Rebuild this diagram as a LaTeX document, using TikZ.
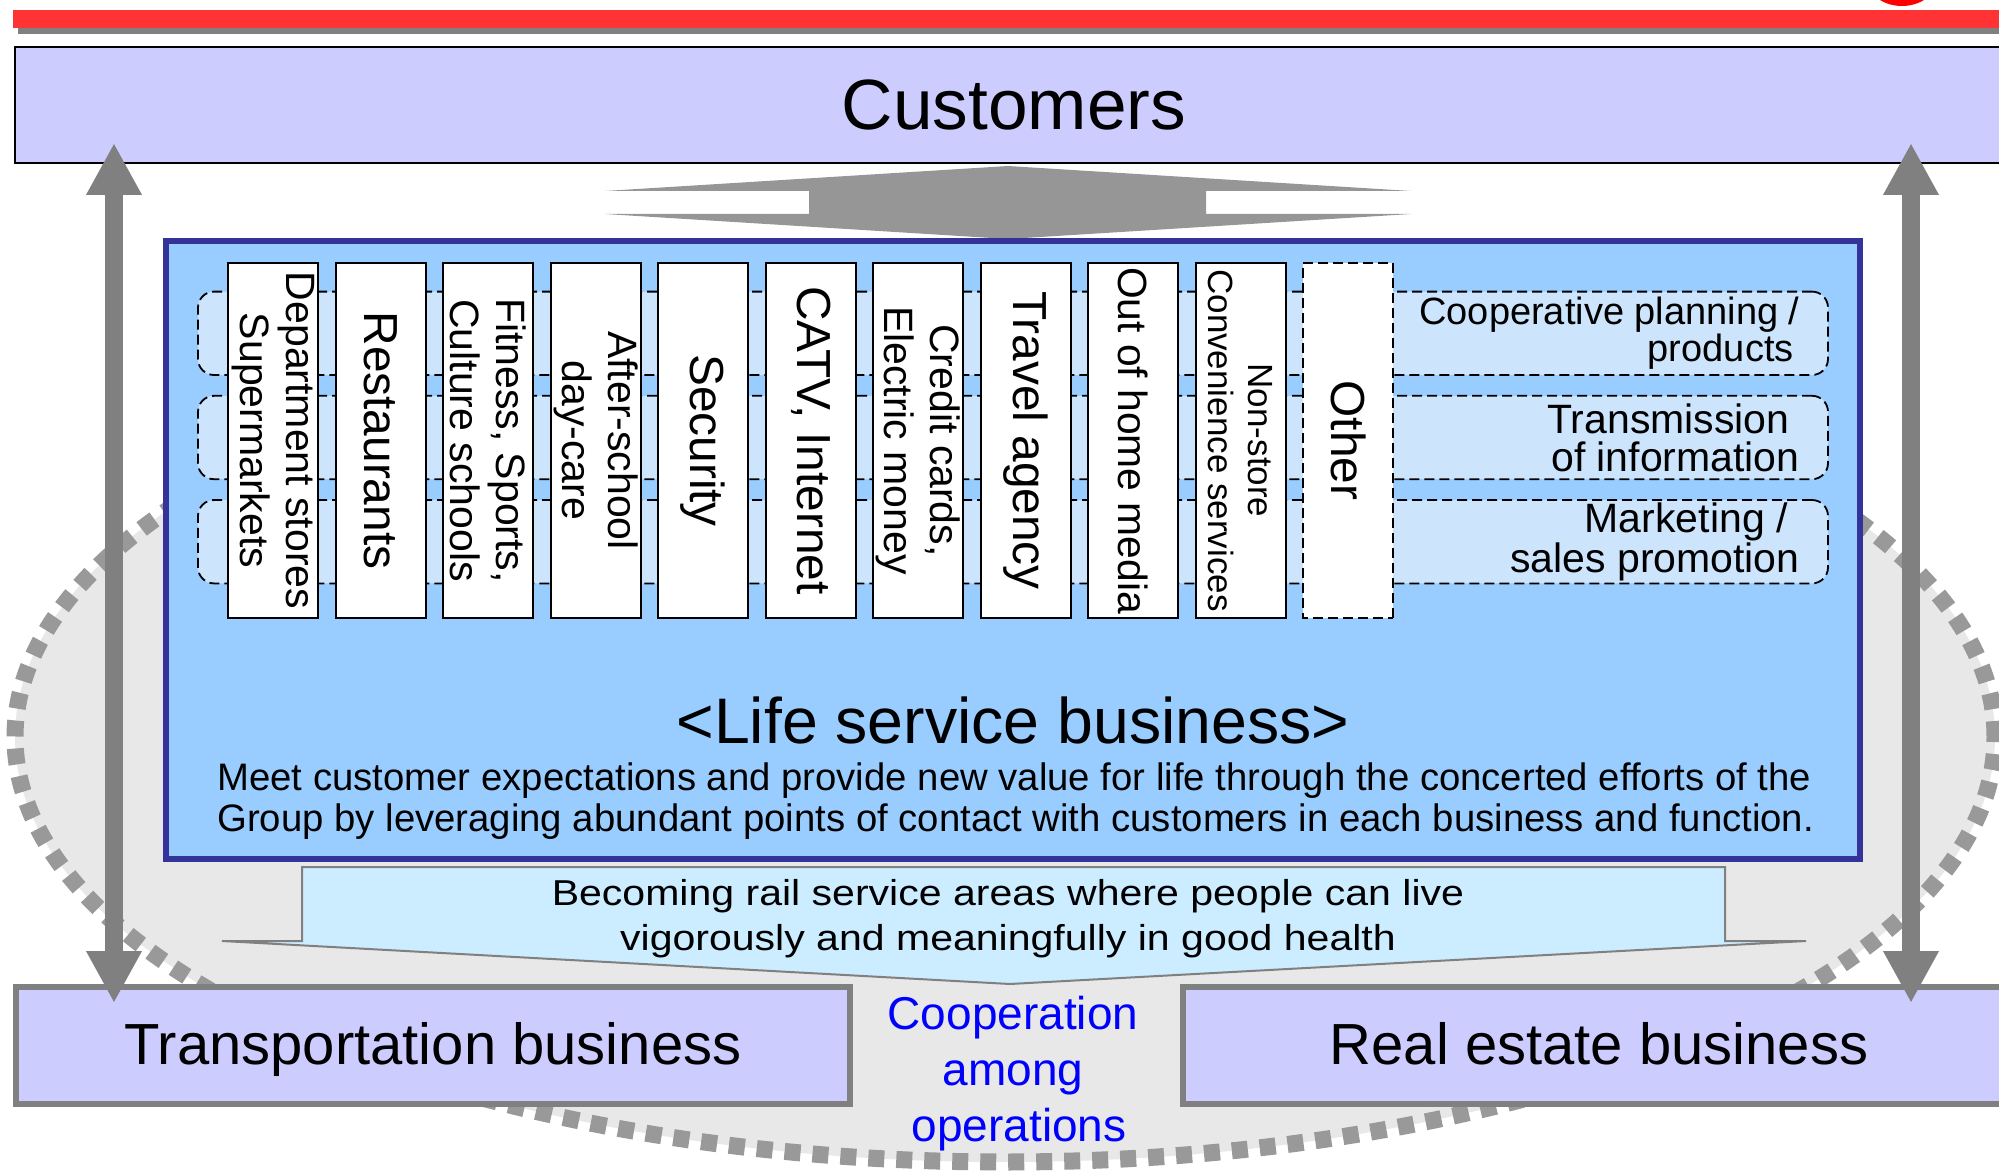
\documentclass[tikz,border=0pt]{standalone}
\usepackage{fontspec}
\setmainfont{Liberation Sans}
\usetikzlibrary{arrows.meta}
\definecolor{custfill}{HTML}{CCCCFF}
\definecolor{lifefill}{HTML}{99CCFF}
\definecolor{lifeborder}{HTML}{333399}
\definecolor{bandfill}{HTML}{CCE4FC}
\definecolor{tabfill}{HTML}{CCECFF}
\definecolor{ellfill}{HTML}{E8E8E8}
\definecolor{dotgray}{HTML}{999999}
\definecolor{arrowgray}{HTML}{808080}
\definecolor{bigarrow}{HTML}{969696}
\definecolor{redbar}{HTML}{FF3333}
\definecolor{coopblue}{HTML}{0000FF}
\tikzset{
  custbox/.style={draw=black, line width=1pt, fill=custfill, inner sep=0pt},
  bizbox/.style={draw=arrowgray, line width=3pt, fill=custfill, inner sep=0pt,
    minimum height=58.5pt, minimum width=417pt, text height=20.9pt, text depth=2pt,
    font=\fontsize{29pt}{34pt}\selectfont},
  lifebox/.style={draw=lifeborder, line width=3pt, fill=lifefill, inner sep=0pt,
    minimum width=847pt, minimum height=309pt},
  band/.style={draw=black, dash pattern=on 5pt off 2.5pt, line width=0.9pt, fill=bandfill,
    rounded corners=8pt, minimum width=815pt, minimum height=41.7pt, inner sep=0pt},
  colbox/.style={draw=black, line width=1.2pt, fill=white, rotate=-90, minimum width=177.5pt,
    minimum height=45pt, inner sep=0pt, align=center, font=\fontsize{23.9pt}{28pt}\selectfont},
  twoline/.style={font=\fontsize{20.5pt}{23pt}\selectfont},
  bandlabel/.style={anchor=east, align=right, inner sep=0pt, font=\fontsize{19pt}{18.5pt}\selectfont},
  biglabel/.style={font=\fontsize{20.5pt}{19pt}\selectfont},
  vertarrow/.style={draw=arrowgray, line width=9pt,
    arrows={Triangle[length=26pt,width=26pt]-Triangle[length=26pt,width=26pt]}},
  tabshape/.style={draw=arrowgray, line width=1pt, fill=tabfill},
}
\begin{document}
\begin{tikzpicture}[x=0.5pt, y=-0.5pt]
\useasboundingbox (0,0) rectangle (1999,1172);
\clip (0,0) rectangle (1999,1172);
% top bar
\fill[arrowgray] (18,28) rectangle (2010,34);
\fill[redbar] (13,10) rectangle (2010,28.3);
\fill[red] (1902,-30) ellipse [x radius=20pt, y radius=18pt];
% background ellipse
\draw[draw=dotgray, fill=ellfill, line width=8.5pt, dash pattern=on 8pt off 6pt]
  (1005,737) ellipse [x radius=495pt, y radius=212.5pt];
% customers
\node[custbox, minimum width=999pt, minimum height=58pt, font=\fontsize{35.6pt}{40pt}\selectfont]
  (cust) at (1014,105) {Customers};
% central double arrow
\fill[bigarrow] (1008,166) -- (1411,191) -- (1206,191) -- (1206,214) -- (1411,214)
  -- (1008,239) -- (605,214) -- (809,214) -- (809,191) -- (605,191) -- cycle;
% life service box
\node[lifebox] (life) at (1013,550) {};
% bands
\node[band] (b1) at (1013,333.3) {};
\node[band] (b2) at (1013,437.5) {};
\node[band] (b3) at (1013,541.7) {};
% columns
\node[colbox, twoline] (c1) at (273.25,440.5) {Department stores\\Supermarkets};
\node[colbox] (c2) at (380.75,440.5) {Restaurants};
\node[colbox, twoline] (c3) at (488.25,440.5) {Fitness, Sports,\\Culture schools};
\node[colbox, twoline] (c4) at (595.75,440.5) {After-school\\day-care};
\node[colbox] (c5) at (703.25,440.5) {Security};
\node[colbox] (c6) at (810.75,440.5) {CATV, Internet};
\node[colbox, twoline] (c7) at (918.25,440.5) {Credit cards,\\Electric money};
\node[colbox] (c8) at (1025.75,440.5) {Travel agency};
\node[colbox, font=\fontsize{20.4pt}{23pt}\selectfont] (c9) at (1133.25,440.5) {Out of home media};
\node[colbox, font=\fontsize{17.5pt}{20pt}\selectfont] (c10) at (1240.75,440.5) {Non-store\\Convenience services};
\node[colbox, dash pattern=on 5pt off 2.5pt, line width=0.9pt] (c11) at (1348.25,440.5) {Other};
% band labels
\node[bandlabel] (l1) at (1800,333.3) {Cooperative planning /\\products\hspace*{3pt}};
\node[bandlabel, biglabel] (l2) at (1800,437.5) {Transmission\hspace*{5pt}\\of information};
\node[bandlabel, biglabel] (l3) at (1800,541.7) {Marketing /\hspace*{6pt}\\sales promotion};
% title and description
\node[anchor=base, inner sep=0pt, font=\fontsize{32.2pt}{36pt}\selectfont] (title) at (1013,743) {<Life service business>};
\node[anchor=north west, align=left, inner sep=0pt, font=\fontsize{19.15pt}{20.5pt}\selectfont] (desc) at (217,762)
  {Meet customer expectations and provide new value for life through the concerted efforts of the\\
   Group by leveraging abundant points of contact with customers in each business and function.};
% tab
\draw[tabshape] (302,867) -- (1725,867) -- (1725,941) -- (1806,941) -- (1010,984)
  -- (222,941) -- (302,941) -- cycle;
\node[anchor=north, align=center, inner sep=0pt, xscale=1.14, font=\fontsize{18pt}{22.5pt}\selectfont] (goal) at (1008,879)
  {Becoming rail service areas where people can live\\vigorously and meaningfully in good health};
% business boxes
\node[bizbox] (trans) at (433,1045.5) {Transportation business};
\node[bizbox, minimum width=416pt] (real) at (1599,1045.5) {Real estate business};
% cooperation text
\node[anchor=north, align=center, inner sep=0pt, text=coopblue, font=\fontsize{23pt}{28pt}\selectfont] (coop) at (1013,996)
  {Cooperation\\among\\\hspace*{6pt}operations};
% vertical arrows
\coordinate (lx) at (114,0);
\coordinate (rx) at (1911,0);
\draw[vertarrow] ([yshift=10.5pt]cust.south -| lx) -- ([yshift=-9.5pt]trans.north -| lx);
\draw[vertarrow] ([yshift=10.5pt]cust.south -| rx) -- ([yshift=-9.5pt]real.north -| rx);
\end{tikzpicture}
\end{document}
